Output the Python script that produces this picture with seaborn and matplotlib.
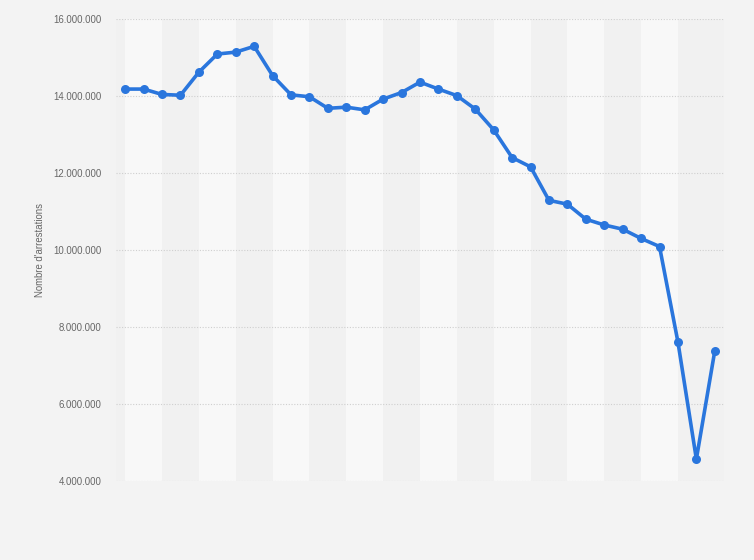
import matplotlib
matplotlib.use("Agg")
import matplotlib.pyplot as plt
import matplotlib.ticker as mticker
import seaborn as sns
import pandas as pd

# arrests per year
years = list(range(1988, 2021))
arrests = [14.18, 14.18, 14.04, 14.02, 14.62, 15.09, 15.14, 15.29, 14.53, 14.03,
           13.98, 13.68, 13.71, 13.64, 13.92, 14.09, 14.36, 14.18, 14.01, 13.66,
           13.12, 12.40, 12.16, 11.29, 11.19, 10.80, 10.65, 10.54, 10.30, 10.09,
           7.61, 4.57, 7.38]
y_ticks = [4, 6, 8, 10, 12, 14, 16]

df = pd.DataFrame({"pos": range(len(years)), "year": years,
                   "arrests": [v * 1e6 for v in arrests]})

sns.set_style("white")
plt.rcParams["font.family"] = ["Liberation Sans", "DejaVu Sans"]

fig = plt.figure(figsize=(7.54, 5.6), dpi=100)
fig.patch.set_facecolor("#f3f3f3")
ax = fig.add_axes([116 / 754, 1 - 481 / 560, (724 - 116) / 754, (481 - 19) / 560])
ax.set_facecolor("#f1f1f1")

# alternating column bands
for k in range(0, len(years) - 1, 4):
    ax.axvspan(k, k + 2, color="#f8f8f8", zorder=0, lw=0)

sns.lineplot(data=df, x="pos", y="arrests", ax=ax, color="#2a76dd",
             linewidth=2.6, marker="o", markersize=6.5, markeredgewidth=0,
             zorder=3)

ax.set_xlim(-0.5, len(years) - 0.5)
ax.set_ylim(4e6, 16e6)
ax.set_yticks([t * 1e6 for t in y_ticks])
ax.yaxis.set_major_formatter(mticker.FuncFormatter(
    lambda v, p: f"{int(v):,}".replace(",", ".")))
ax.set_xticks([])
ax.tick_params(axis="y", length=0, pad=10.5, labelsize=6.9, labelcolor="#666666")
ax.grid(axis="y", color="#cfcfcf", linestyle=(0, (1, 1.5)), linewidth=0.8)
ax.set_axisbelow(True)
for s in ax.spines.values():
    s.set_visible(False)
ax.set_xlabel("")
ax.set_ylabel("Nombre d'arrestations", fontsize=6.9, color="#666666")
ax.yaxis.set_label_coords(-0.116, 0.5)

fig.savefig("out.png", dpi=100, facecolor=fig.get_facecolor())
